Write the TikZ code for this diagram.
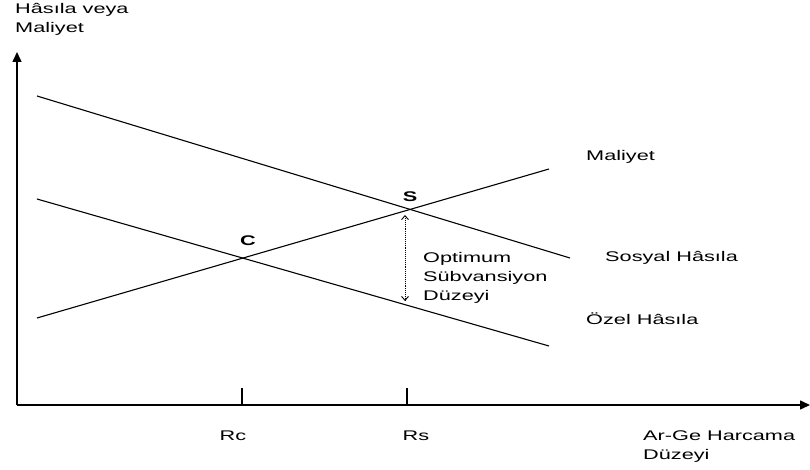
\documentclass[tikz,border=0pt]{standalone}
\usepackage{fontspec}
\setmainfont{Liberation Sans}[FakeStretch=1.55]
\usetikzlibrary{arrows.meta}
\begin{document}
\begin{tikzpicture}[x=1pt,y=-1pt,
  lbl/.style={font=\fontsize{14}{19}\selectfont, inner sep=0pt, align=left},
  ptlbl/.style={font=\fontsize{14}{19}\selectfont\bfseries, inner sep=0pt},
  axis/.style={line width=1.5pt, -{Triangle[length=10pt,width=9pt]}},
  curve/.style={line width=1.1pt},
  tick/.style={line width=1.1pt},
  gap/.style={line width=0.9pt, densely dotted, {Straight Barb[length=4pt,width=7pt]}-{Straight Barb[length=4pt,width=7pt]}}]
\useasboundingbox (0,0) rectangle (810,470);
% axes
\coordinate (O) at (17,405);
\coordinate (Ytip) at (17,52);
\coordinate (Xtip) at (810,405);
\draw[axis] (O) -- (Ytip);
\draw[axis] (O) -- (Xtip);
% lines
\coordinate (s1) at (37,96);   \coordinate (s2) at (570,258);
\coordinate (p1) at (37,199);  \coordinate (p2) at (549,346);
\coordinate (c1) at (37,318);  \coordinate (c2) at (549,169);
\draw[curve] (s1) -- (s2);
\draw[curve] (p1) -- (p2);
\draw[curve] (c1) -- (c2);
% points
\coordinate (S) at (407,210);
\coordinate (C) at (242,258);
\node[ptlbl] (Slbl) at (410,197) {S};
\node[ptlbl] (Clbl) at (248,241) {C};
% ticks
\coordinate (tc) at (242,388); \coordinate (tcb) at (242,405);
\coordinate (ts) at (407,388); \coordinate (tsb) at (407,405);
\draw[tick] (tc) -- (tcb);
\draw[tick] (ts) -- (tsb);
% subsidy arrow
\coordinate (ga) at (405,215); \coordinate (gb) at (405,301);
\draw[gap] (ga) -- (gb);
% labels
\node[lbl, anchor=west] (ylab) at (15,19) {Hâsıla veya\\Maliyet};
\node[lbl, anchor=west] (mal) at (586,157) {Maliyet};
\node[lbl, anchor=west] (sos) at (605,258) {Sosyal Hâsıla};
\node[lbl, anchor=west] (oz) at (586,319) {Özel Hâsıla};
\node[lbl, anchor=west] (opt) at (423,278) {Optimum\\Sübvansiyon\\Düzeyi};
\node[lbl] (rc) at (233,436) {Rc};
\node[lbl] (rs) at (416,436) {Rs};
\node[lbl, anchor=west] (xlab) at (643,447) {Ar-Ge Harcama\\Düzeyi};
\end{tikzpicture}
\end{document}
